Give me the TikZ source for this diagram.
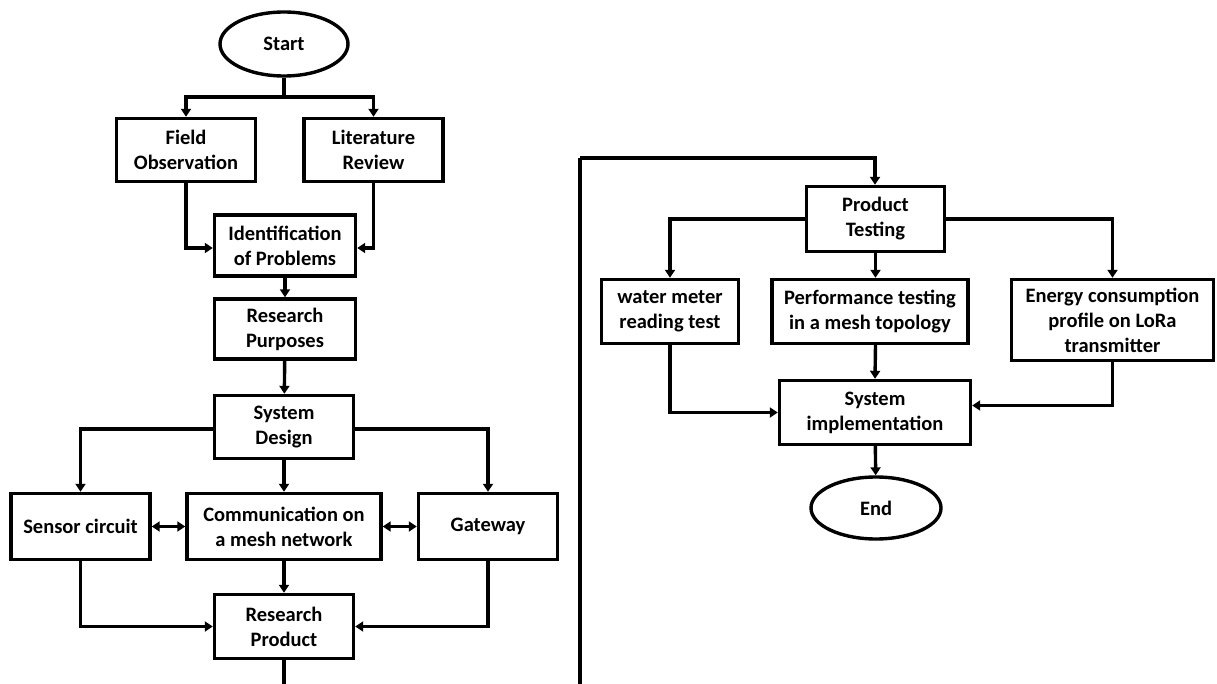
\documentclass[tikz,border=0pt]{standalone}
\usepackage{fontspec}
\setmainfont{Carlito}
\usetikzlibrary{shapes.geometric,arrows.meta}
\begin{document}
\begin{tikzpicture}[x=1pt,y=-1pt,
  every node/.style={font=\fontsize{20.5}{25}\selectfont\bfseries, align=center, inner sep=1pt},
  box/.style={draw, line width=3.4pt, rectangle},
  term/.style={draw, line width=3.4pt, ellipse},
  conn/.style={line width=3.4pt},
  arr/.style={line width=3.4pt, -{Triangle[length=8pt,width=10pt]}},
  barr/.style={line width=3.4pt, {Triangle[length=8pt,width=10pt]}-{Triangle[length=8pt,width=10pt]}}]
\useasboundingbox (0,0) rectangle (1217,684);
% left column
\node[term, minimum width=128, minimum height=64] (start) at (284,44) {Start};
\node[box, minimum width=139, minimum height=63] (fo) at (186,150) {Field\\Observation};
\node[box, minimum width=139, minimum height=63] (lr) at (373.5,150) {Literature\\Review};
\node[box, minimum width=141, minimum height=61] (ip) at (285,245.5) {Identification\\of Problems};
\node[box, minimum width=141, minimum height=60] (rp) at (285,329) {Research\\Purposes};
\node[box, minimum width=139, minimum height=63] (sd) at (284,427) {System\\Design};
\node[box, minimum width=139, minimum height=66] (sc) at (80.5,526.5) {Sensor circuit};
\node[box, minimum width=194, minimum height=66] (cm) at (284,526.5) {Communication on\\a mesh network};
\node[box, minimum width=139, minimum height=66] (gw) at (488,526.5) {Gateway};
\node[box, minimum width=139, minimum height=64] (rpd) at (284,626.5) {Research\\Product};
% right column
\node[box, minimum width=138, minimum height=65] (pt) at (875.5,219) {Product\\Testing};
\node[box, minimum width=137, minimum height=64] (wm) at (670,311.5) {water meter\\reading test};
\node[box, minimum width=196, minimum height=64] (pf) at (870,311.5) {Performance testing\\in a mesh topology};
\node[box, minimum width=202, minimum height=81] (en) at (1112.5,320) {Energy consumption\\profile on LoRa\\transmitter};
\node[box, minimum width=191, minimum height=64] (si) at (875,412.5) {System\\implementation};
\node[term, minimum width=130, minimum height=62] (end) at (876,508) {End};
% connectors left
\coordinate (j1) at (284,97);
\draw[conn] (start.south) -- (j1);
\draw[arr] (j1) -| (fo.north);
\draw[arr] (j1) -| (lr.north);
\draw[arr] (fo.south) |- ([yshift=-2.5pt]ip.west);
\draw[arr] (lr.south) |- ([yshift=-2.5pt]ip.east);
\draw[arr] (ip) -- (rp);
\draw[arr] (rp) -- (sd);
\draw[arr] ([yshift=-2pt]sd.west) -| (sc.north);
\draw[arr] ([yshift=-2pt]sd.east) -| (gw.north);
\draw[arr] (sd) -- (cm);
\draw[barr] (sc) -- (cm);
\draw[barr] (cm) -- (gw);
\draw[arr] (cm) -- (rpd);
\draw[arr] (sc.south) |- (rpd.west);
\draw[arr] (gw.south) |- (rpd.east);
\coordinate (b1) at (284,684);
\draw[conn] (rpd.south) -- (b1);
% loop to right column
\coordinate (b2) at (580,684);
\coordinate (c1) at (580,158);
\draw[conn] (b2) -- (c1);
\draw[arr] (c1) -| ([xshift=-0.5pt]pt.north);
% connectors right
\draw[arr] (pt.west) -| (wm.north);
\draw[arr] (pt.east) -| (en.north);
\draw[arr] (pt.south) -- (pt.south |- pf.north);
\draw[arr] (pt.south |- pf.south) -- (si.north);
\draw[arr] (wm.south) |- (si.west);
\draw[arr] (en.south) |- ([yshift=7pt]si.east);
\draw[arr] (si) -- (end);
\end{tikzpicture}
\end{document}
